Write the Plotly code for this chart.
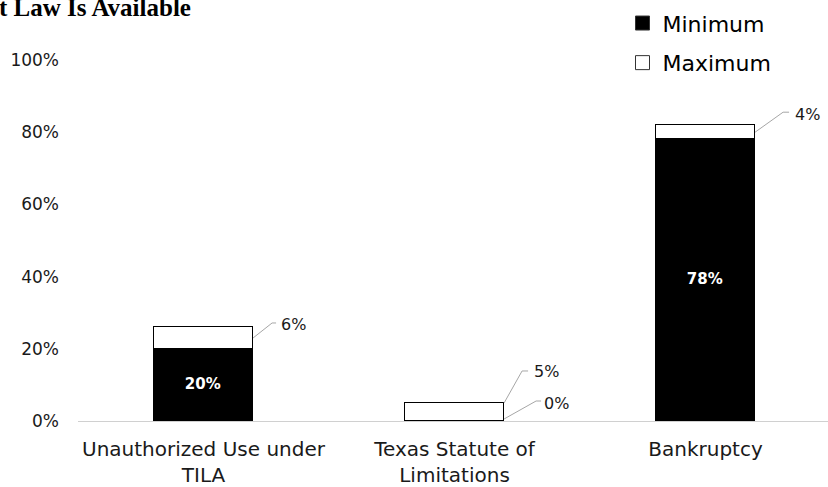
import plotly.graph_objects as go

# Chart data
categories = ["Unauthorized Use under<br>TILA", "Texas Statute of<br>Limitations", "Bankruptcy"]
minimum = [20, 0, 78]
maximum = [6, 5, 4]
y_ticks = [0, 20, 40, 60, 80, 100]
y_tick_labels = [f"{t}%" for t in y_ticks]
title_text = "t Law Is Available"

FONT = "DejaVu Sans"
BAR_W = 0.395
LEADER = "#a6a6a6"

xs = list(range(len(categories)))

fig = go.Figure()
fig.add_trace(go.Bar(
    x=xs, y=minimum, name="Minimum", width=BAR_W,
    marker=dict(color="black", line=dict(color="black", width=1.5)),
    text=[f"<b>{v}%</b>" if v > 0 else "" for v in minimum],
    textposition="inside", insidetextanchor="middle",
    textfont=dict(family=FONT, size=15, color="white"),
    constraintext="none", showlegend=False,
))
fig.add_trace(go.Bar(
    x=xs, y=maximum, name="Maximum", width=BAR_W,
    marker=dict(color="white", line=dict(color="black", width=1.5)),
    showlegend=False,
))

# Legend keys drawn as square markers
for name, fill, grp in [("Minimum", "black", "a"), ("Maximum", "white", "b")]:
    fig.add_trace(go.Scatter(
        x=[None], y=[None], mode="markers", name=name, legendgroup=grp,
        marker=dict(symbol="square", size=14, color=fill,
                    line=dict(color="#333333", width=1)),
    ))

# Leader-line labels: anchor on the right edge of a segment, elbow offsets in pixels
leaders = [(i, minimum[i] + maximum[i] / 2, "max", f"{maximum[i]}%") for i in xs]
leaders.append((1, 0, "min", f"{minimum[1]}%"))

# (start dy, elbow dx, elbow dy, tail length, text dx, text dy)
geom = {
    (0, "max"): (0, 19, 15, 4, 26, 13),
    (1, "max"): (9, 18, 41, 6, 28, 40),
    (2, "max"): (0, 28, 20, 6, 38, 18),
    (1, "min"): (2, 32, 20, 5, 38, 18),
}

shapes = []
annotations = []
for i, yv, kind, label in leaders:
    sy, ex, ey, tail, tx, ty = geom[(i, kind)]
    xr = i + BAR_W / 2
    shapes.append(dict(
        type="path", xref="x", yref="y", xsizemode="pixel", ysizemode="pixel",
        xanchor=xr, yanchor=yv,
        path=f"M 0,{sy} L {ex},{ey} L {ex + tail},{ey}",
        line=dict(color=LEADER, width=1),
    ))
    annotations.append(dict(
        x=xr, y=yv, xref="x", yref="y", text=label, showarrow=False,
        xanchor="left", yanchor="middle", xshift=tx, yshift=ty,
        font=dict(family=FONT, size=16, color="#1a1a1a"),
    ))

annotations.append(dict(
    x=-0.108, y=1.146, xref="paper", yref="paper", text=f"<b>{title_text}</b>",
    showarrow=False, xanchor="left", yanchor="middle",
    font=dict(family="Liberation Serif", size=25, color="black"),
))

fig.update_layout(
    width=828, height=487,
    margin=dict(l=78, r=0, t=60, b=66, autoexpand=False),
    barmode="stack",
    bargap=0,
    plot_bgcolor="white", paper_bgcolor="white",
    showlegend=True,
    legend=dict(
        x=0.726, y=1.16, xanchor="left", yanchor="top",
        traceorder="grouped", tracegroupgap=8,
        font=dict(family=FONT, size=22, color="black"),
        itemwidth=30, bgcolor="rgba(0,0,0,0)",
    ),
    shapes=shapes,
    annotations=annotations,
)
fig.update_xaxes(
    range=[-0.5, 2.488], tickmode="array", tickvals=xs, ticktext=categories,
    showline=True, linecolor="#d0d0d0", linewidth=1, showgrid=False,
    ticks="", tickfont=dict(family=FONT, size=20, color="#1a1a1a"),
    ticklabelstandoff=10, automargin=False,
)
fig.update_yaxes(
    range=[0, 100], tickmode="array", tickvals=y_ticks, ticktext=y_tick_labels,
    showgrid=False, zeroline=False, showline=False, ticks="",
    tickfont=dict(family=FONT, size=17, color="#1a1a1a"),
    ticklabelstandoff=18, automargin=False,
)

fig.write_html("out.html")
